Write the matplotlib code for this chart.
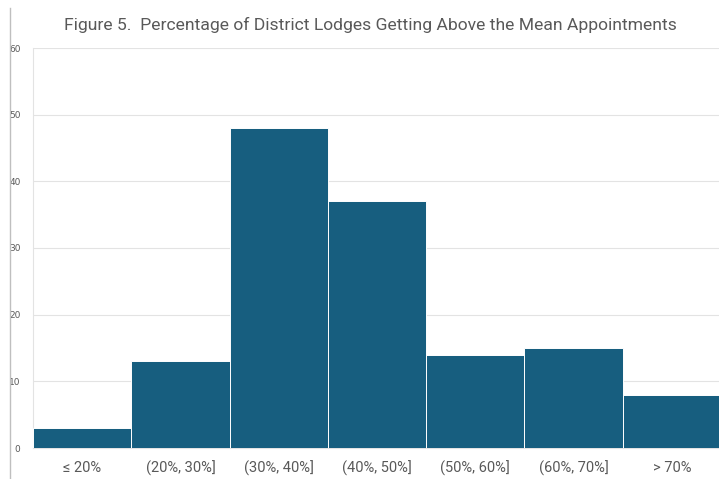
import matplotlib
matplotlib.use('Agg')
import matplotlib.pyplot as plt
from matplotlib import font_manager

# bins and counts
categories = ['≤ 20%', '(20%, 30%]', '(30%, 40%]', '(40%, 50%]', '(50%, 60%]', '(60%, 70%]', '> 70%']
counts = [3, 13, 48, 37, 14, 15, 8]
yticks = [0, 10, 20, 30, 40, 50, 60]

names = {f.name for f in font_manager.fontManager.ttflist}
title_font = 'Liberation Sans Narrow' if 'Liberation Sans Narrow' in names else 'Roboto'
title_size = 14 if title_font == 'Liberation Sans Narrow' else 12.6

bar_color = '#175e7f'
grid_color = '#e3e3e3'

fig = plt.figure(figsize=(7.19, 4.79), dpi=100)
ax = fig.add_axes([33/719, 1 - 448/479, 686/719, 400/479])

x = list(range(len(categories)))
ax.bar(x, counts, width=1.0, color=bar_color, edgecolor='white', linewidth=0.7, zorder=3)

ax.set_xlim(-0.5, 6.48)
ax.set_ylim(0, 60)
ax.set_yticks(yticks)
ax.set_xticks(x)
ax.set_xticklabels(categories, fontsize=10.5, color='#595959', family='Roboto')
ax.tick_params(axis='y', labelsize=6.5, labelcolor='#595959', length=0, pad=9)
ax.tick_params(axis='x', length=0, pad=9)
ax.grid(axis='y', color=grid_color, linewidth=0.8, zorder=0)

for s in ['top', 'right']:
    ax.spines[s].set_visible(False)
ax.spines['left'].set_color(grid_color)
ax.spines['bottom'].set_color(grid_color)

fig.text(370/719, 1 - 25/479, 'Figure 5.  Percentage of District Lodges Getting Above the Mean Appointments',
         ha='center', va='center', fontsize=title_size, color='#595959', family=title_font)

# thin grey border line on the left of the picture
fig.add_artist(plt.Line2D([10/719, 10/719], [0, 1 - 8/479], transform=fig.transFigure,
                          color='#bfbfbf', linewidth=1))

fig.savefig('out.png', dpi=100)
